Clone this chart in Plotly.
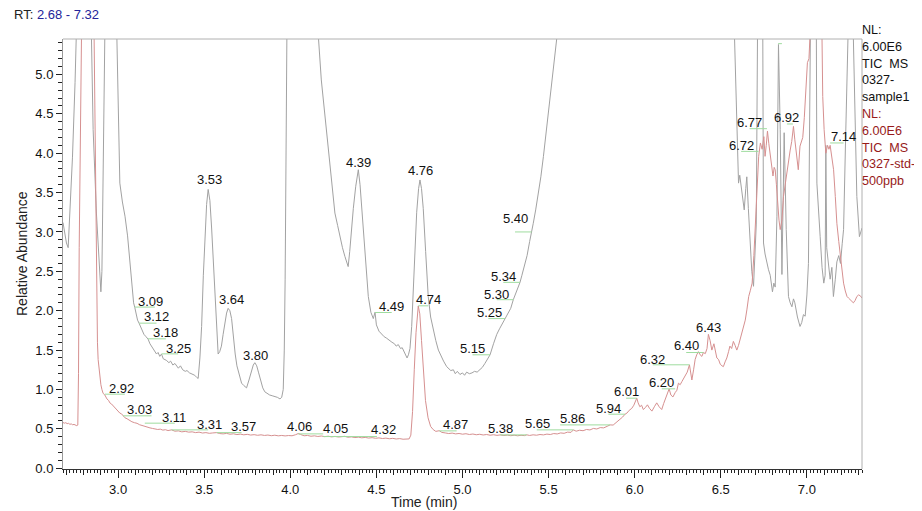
import plotly.graph_objects as go

# ---------------- data ----------------
# TIC MS 0327-sample1 (grey)  : (time min, relative abundance)
sample1_points = [
    (2.680, 3.12), (2.690, 3.00), (2.700, 2.86), (2.710, 2.80), (2.720, 3.20), (2.735, 3.95),
    (2.750, 4.90), (2.765, 5.80), (2.800, 9.00), (2.845, 5.50), (2.855, 4.30), (2.874, 3.24),
    (2.890, 2.60), (2.900, 2.24), (2.906, 2.50), (2.913, 3.90), (2.923, 5.50), (2.960, 9.00),
    (2.995, 5.45), (3.005, 4.30), (3.010, 3.62), (3.025, 3.38), (3.040, 3.20), (3.055, 2.95),
    (3.070, 2.61), (3.080, 2.32), (3.090, 2.10), (3.097, 2.04), (3.105, 1.95), (3.113, 1.88),
    (3.122, 1.84), (3.136, 1.76), (3.150, 1.70), (3.162, 1.67), (3.174, 1.64), (3.185, 1.58),
    (3.200, 1.53), (3.212, 1.48), (3.223, 1.45), (3.232, 1.47), (3.242, 1.42), (3.252, 1.45),
    (3.262, 1.39), (3.280, 1.37), (3.295, 1.34), (3.305, 1.36), (3.318, 1.31), (3.330, 1.33),
    (3.340, 1.30), (3.350, 1.27), (3.362, 1.30), (3.375, 1.25), (3.390, 1.23), (3.400, 1.24),
    (3.415, 1.21), (3.430, 1.19), (3.445, 1.18), (3.458, 1.15), (3.465, 1.14), (3.475, 1.40),
    (3.485, 1.80), (3.495, 2.45), (3.504, 2.94), (3.514, 3.35), (3.523, 3.54), (3.533, 3.40),
    (3.543, 3.05), (3.553, 2.60), (3.562, 2.15), (3.572, 1.75), (3.581, 1.45), (3.590, 1.48),
    (3.600, 1.55), (3.610, 1.70), (3.620, 1.86), (3.630, 1.97), (3.639, 2.03), (3.649, 2.00),
    (3.659, 1.90), (3.670, 1.65), (3.680, 1.45), (3.690, 1.30), (3.705, 1.16), (3.717, 1.08),
    (3.730, 1.05), (3.746, 1.02), (3.760, 1.12), (3.775, 1.25), (3.785, 1.31), (3.794, 1.34),
    (3.805, 1.30), (3.815, 1.22), (3.828, 1.10), (3.840, 1.02), (3.852, 0.97), (3.865, 0.95),
    (3.880, 0.93), (3.895, 0.92), (3.910, 0.91), (3.925, 0.90), (3.940, 0.88), (3.950, 0.90),
    (3.959, 1.00), (3.965, 1.50), (3.970, 2.40), (3.975, 3.80), (3.980, 5.45), (4.000, 8.00),
    (4.080, 9.00), (4.150, 6.50), (4.164, 5.45), (4.180, 4.93), (4.200, 4.51), (4.215, 4.12),
    (4.230, 3.79), (4.245, 3.50), (4.259, 3.24), (4.275, 3.08), (4.288, 2.94), (4.303, 2.80),
    (4.317, 2.69), (4.328, 2.60), (4.336, 2.56), (4.345, 2.75), (4.356, 3.05), (4.366, 3.30),
    (4.380, 3.58), (4.395, 3.79), (4.405, 3.60), (4.415, 3.30), (4.424, 3.03), (4.440, 2.55),
    (4.453, 2.18), (4.468, 1.98), (4.482, 1.90), (4.492, 1.98), (4.500, 1.82), (4.515, 1.74),
    (4.530, 1.70), (4.545, 1.67), (4.560, 1.65), (4.575, 1.62), (4.590, 1.60), (4.605, 1.58),
    (4.615, 1.55), (4.627, 1.57), (4.640, 1.52), (4.650, 1.53), (4.660, 1.48), (4.670, 1.43),
    (4.678, 1.40), (4.686, 1.44), (4.695, 1.52), (4.705, 1.80), (4.714, 2.25), (4.724, 2.80),
    (4.734, 3.25), (4.745, 3.55), (4.753, 3.66), (4.762, 3.55), (4.772, 3.30), (4.786, 2.75),
    (4.801, 2.18), (4.815, 1.92), (4.830, 1.76), (4.845, 1.62), (4.860, 1.50), (4.875, 1.42),
    (4.890, 1.36), (4.908, 1.29), (4.920, 1.27), (4.932, 1.24), (4.947, 1.25), (4.958, 1.20),
    (4.970, 1.23), (4.985, 1.19), (5.000, 1.21), (5.012, 1.18), (5.024, 1.22), (5.040, 1.20),
    (5.055, 1.21), (5.070, 1.23), (5.085, 1.22), (5.100, 1.25), (5.115, 1.28), (5.130, 1.33),
    (5.145, 1.38), (5.160, 1.44), (5.180, 1.58), (5.199, 1.70), (5.215, 1.77), (5.228, 1.82),
    (5.247, 1.90), (5.266, 1.96), (5.280, 2.03), (5.295, 2.14), (5.310, 2.22), (5.322, 2.29),
    (5.334, 2.36), (5.345, 2.45), (5.360, 2.56), (5.375, 2.70), (5.390, 2.88), (5.402, 3.00),
    (5.411, 3.11), (5.425, 3.28), (5.440, 3.47), (5.455, 3.70), (5.470, 3.96), (5.484, 4.22),
    (5.498, 4.51), (5.513, 4.80), (5.527, 5.08), (5.547, 5.45), (5.600, 7.00), (6.000, 9.00),
    (6.500, 8.00), (6.570, 6.00), (6.580, 5.45), (6.595, 4.30), (6.603, 3.62), (6.610, 3.72),
    (6.620, 3.55), (6.628, 3.45), (6.636, 3.28), (6.645, 3.55), (6.651, 3.70), (6.660, 3.30),
    (6.670, 2.82), (6.680, 2.50), (6.690, 2.31), (6.700, 2.70), (6.706, 3.10), (6.713, 5.45),
    (6.728, 7.00), (6.744, 5.45), (6.748, 2.86), (6.757, 2.72), (6.767, 2.60), (6.777, 2.52),
    (6.787, 2.45), (6.800, 2.24), (6.808, 2.35), (6.816, 2.30), (6.826, 3.20), (6.835, 5.38),
    (6.845, 4.30), (6.855, 2.46), (6.862, 3.40), (6.868, 4.26), (6.880, 3.03), (6.893, 2.18),
    (6.903, 2.10), (6.913, 2.05), (6.922, 2.15), (6.930, 2.10), (6.945, 1.92), (6.960, 1.80),
    (6.970, 1.85), (6.980, 1.95), (6.990, 1.93), (7.000, 2.20), (7.009, 2.60), (7.020, 5.45),
    (7.038, 7.50), (7.055, 5.45), (7.058, 3.62), (7.068, 3.20), (7.077, 2.94), (7.088, 2.55),
    (7.098, 2.35), (7.106, 2.45), (7.110, 4.10), (7.115, 2.80), (7.125, 2.55), (7.135, 2.40),
    (7.145, 2.55), (7.154, 2.18), (7.165, 2.40), (7.174, 2.62), (7.185, 2.70), (7.195, 2.60),
    (7.205, 2.85), (7.213, 3.03), (7.225, 4.20), (7.240, 5.45), (7.255, 7.00), (7.270, 5.45),
    (7.280, 4.20), (7.290, 3.45), (7.305, 2.94), (7.320, 3.05),
]

# TIC MS 0327-std-500ppb (red)
std_points = [
    (2.680, 0.580), (2.688, 0.572), (2.696, 0.578), (2.704, 0.566), (2.712, 0.570), (2.720, 0.558),
    (2.728, 0.562), (2.736, 0.552), (2.744, 0.556), (2.752, 0.545), (2.760, 0.540), (2.766, 0.548),
    (2.770, 1.200), (2.774, 2.800), (2.778, 4.300), (2.782, 5.600), (2.820, 12.00), (2.860, 5.600),
    (2.865, 4.600), (2.870, 3.100), (2.875, 1.930), (2.880, 1.600), (2.884, 1.380), (2.889, 1.250),
    (2.894, 1.160), (2.900, 1.060), (2.906, 1.000), (2.913, 0.950), (2.923, 0.930), (2.935, 0.880),
    (2.945, 0.860), (2.952, 0.830), (2.962, 0.815), (2.972, 0.790), (2.980, 0.770), (2.990, 0.745),
    (3.000, 0.720), (3.010, 0.700), (3.020, 0.690), (3.029, 0.665), (3.040, 0.640), (3.052, 0.628),
    (3.065, 0.605), (3.080, 0.590), (3.095, 0.578), (3.110, 0.570), (3.125, 0.552), (3.140, 0.540),
    (3.155, 0.528), (3.170, 0.520), (3.185, 0.512), (3.200, 0.505), (3.215, 0.498), (3.230, 0.492),
    (3.245, 0.496), (3.260, 0.484), (3.275, 0.489), (3.290, 0.478), (3.310, 0.487), (3.330, 0.470),
    (3.350, 0.474), (3.370, 0.462), (3.390, 0.468), (3.410, 0.458), (3.430, 0.462), (3.450, 0.452),
    (3.470, 0.458), (3.490, 0.447), (3.510, 0.452), (3.530, 0.443), (3.550, 0.448), (3.572, 0.452),
    (3.590, 0.440), (3.610, 0.436), (3.630, 0.442), (3.650, 0.432), (3.670, 0.437), (3.690, 0.427),
    (3.710, 0.433), (3.730, 0.424), (3.750, 0.430), (3.770, 0.421), (3.790, 0.426), (3.810, 0.418),
    (3.830, 0.424), (3.850, 0.416), (3.870, 0.421), (3.890, 0.413), (3.910, 0.419), (3.930, 0.411),
    (3.950, 0.416), (3.970, 0.410), (3.990, 0.415), (4.010, 0.412), (4.030, 0.425), (4.046, 0.440),
    (4.060, 0.428), (4.080, 0.412), (4.100, 0.416), (4.120, 0.406), (4.140, 0.411), (4.160, 0.403),
    (4.180, 0.409), (4.200, 0.401), (4.220, 0.406), (4.240, 0.398), (4.260, 0.404), (4.280, 0.396),
    (4.300, 0.401), (4.317, 0.405), (4.335, 0.393), (4.355, 0.398), (4.375, 0.389), (4.395, 0.394),
    (4.415, 0.386), (4.435, 0.391), (4.455, 0.383), (4.475, 0.388), (4.495, 0.380), (4.515, 0.385),
    (4.535, 0.377), (4.555, 0.382), (4.575, 0.374), (4.595, 0.379), (4.615, 0.371), (4.635, 0.376),
    (4.655, 0.368), (4.675, 0.365), (4.690, 0.372), (4.700, 0.420), (4.710, 0.720), (4.720, 1.250),
    (4.730, 1.720), (4.743, 2.060), (4.752, 1.960), (4.762, 1.620), (4.772, 1.220), (4.785, 0.860),
    (4.800, 0.640), (4.815, 0.530), (4.830, 0.490), (4.845, 0.468), (4.865, 0.476), (4.880, 0.455),
    (4.900, 0.448), (4.920, 0.440), (4.940, 0.446), (4.960, 0.436), (4.980, 0.441), (5.000, 0.432),
    (5.020, 0.438), (5.040, 0.428), (5.060, 0.434), (5.080, 0.425), (5.100, 0.431), (5.120, 0.422),
    (5.140, 0.428), (5.160, 0.419), (5.180, 0.425), (5.200, 0.417), (5.220, 0.423), (5.240, 0.415),
    (5.260, 0.421), (5.280, 0.413), (5.300, 0.419), (5.320, 0.412), (5.340, 0.418), (5.360, 0.414),
    (5.373, 0.424), (5.390, 0.416), (5.410, 0.424), (5.430, 0.419), (5.450, 0.428), (5.470, 0.423),
    (5.490, 0.433), (5.510, 0.428), (5.530, 0.440), (5.550, 0.435), (5.570, 0.448), (5.590, 0.443),
    (5.610, 0.458), (5.630, 0.455), (5.644, 0.487), (5.660, 0.470), (5.680, 0.482), (5.700, 0.476),
    (5.720, 0.492), (5.740, 0.486), (5.760, 0.505), (5.780, 0.498), (5.800, 0.516), (5.820, 0.512),
    (5.840, 0.532), (5.857, 0.550), (5.875, 0.548), (5.890, 0.575), (5.905, 0.598), (5.915, 0.625),
    (5.930, 0.650), (5.944, 0.686), (5.955, 0.700), (5.968, 0.735), (5.983, 0.760), (5.995, 0.800),
    (6.003, 0.850), (6.012, 0.890), (6.020, 0.830), (6.030, 0.780), (6.040, 0.800), (6.050, 0.745),
    (6.062, 0.770), (6.074, 0.805), (6.086, 0.760), (6.100, 0.725), (6.114, 0.780), (6.128, 0.830),
    (6.142, 0.780), (6.157, 0.745), (6.168, 0.820), (6.180, 0.900), (6.190, 0.960), (6.200, 1.008),
    (6.210, 0.930), (6.222, 0.905), (6.235, 0.960), (6.245, 0.990), (6.254, 1.080), (6.264, 1.060),
    (6.274, 1.100), (6.284, 1.140), (6.293, 1.160), (6.305, 1.220), (6.318, 1.313), (6.325, 1.200),
    (6.332, 1.120), (6.342, 1.250), (6.351, 1.380), (6.360, 1.440), (6.370, 1.480), (6.380, 1.440),
    (6.390, 1.420), (6.399, 1.469), (6.410, 1.455), (6.420, 1.520), (6.428, 1.700), (6.438, 1.620),
    (6.448, 1.500), (6.460, 1.580), (6.470, 1.450), (6.477, 1.400), (6.487, 1.380), (6.497, 1.320),
    (6.507, 1.300), (6.515, 1.290), (6.525, 1.350), (6.535, 1.400), (6.545, 1.480), (6.553, 1.550),
    (6.563, 1.520), (6.573, 1.610), (6.583, 1.560), (6.593, 1.500), (6.603, 1.560), (6.612, 1.640),
    (6.622, 1.720), (6.632, 1.800), (6.642, 1.880), (6.652, 2.020), (6.662, 2.180), (6.672, 2.260),
    (6.682, 2.350), (6.692, 2.700), (6.702, 3.150), (6.711, 3.580), (6.720, 3.960), (6.730, 4.130),
    (6.740, 4.050), (6.750, 4.210), (6.757, 3.960), (6.764, 4.100), (6.771, 4.280), (6.779, 4.120),
    (6.787, 3.960), (6.795, 3.800), (6.803, 3.710), (6.810, 3.820), (6.816, 3.790), (6.823, 3.600),
    (6.830, 3.370), (6.838, 3.150), (6.845, 3.030), (6.855, 3.150), (6.864, 3.450), (6.874, 3.620),
    (6.884, 3.790), (6.894, 3.920), (6.903, 4.040), (6.912, 4.150), (6.922, 4.340), (6.930, 4.170),
    (6.940, 3.960), (6.950, 3.790), (6.960, 4.090), (6.968, 4.150), (6.976, 4.200), (6.985, 4.450),
    (6.994, 4.800), (7.003, 5.150), (7.012, 5.200), (7.020, 5.600), (7.050, 7.000), (7.087, 5.600),
    (7.092, 4.720), (7.100, 4.300), (7.110, 4.000), (7.120, 4.100), (7.128, 4.050), (7.135, 4.100),
    (7.145, 3.960), (7.155, 3.790), (7.165, 3.450), (7.174, 3.110), (7.185, 2.880), (7.195, 2.690),
    (7.205, 2.500), (7.213, 2.350), (7.223, 2.250), (7.233, 2.180), (7.242, 2.160), (7.250, 2.140),
    (7.260, 2.120), (7.270, 2.100), (7.280, 2.130), (7.290, 2.180), (7.300, 2.200), (7.310, 2.190),
    (7.320, 2.160),
]

# peak labels
peak_text = ["3.09", "3.12", "3.18", "3.25", "3.53", "3.64", "3.80", "4.39", "4.49", "4.76",
             "5.15", "5.25", "5.30", "5.34", "5.40", "6.72", "6.77", "6.84", "6.92", "7.14",
             "2.92", "3.03", "3.11", "3.31", "3.57", "4.06", "4.05", "4.32", "4.74", "4.87",
             "5.38", "5.65", "5.86", "5.94", "6.01", "6.20", "6.32", "6.40", "6.43"]
peak_label_x = [3.191, 3.221, 3.273, 3.351, 3.529, 3.661, 3.796, 4.397, 4.590, 4.755,
                5.058, 5.156, 5.200, 5.237, 5.305, 6.622, 6.667, 6.858, 6.884, 7.213,
                3.021, 3.124, 3.325, 3.529, 3.726, 4.056, 4.265, 4.542, 4.800, 4.962,
                5.220, 5.433, 5.639, 5.847, 5.950, 6.157, 6.105, 6.300, 6.428]
peak_label_y = [2.117, 1.926, 1.723, 1.525, 3.663, 2.139, 1.431, 3.888, 2.053, 3.781,
                1.515, 1.975, 2.203, 2.436, 3.177, 4.095, 4.384, 5.493, 4.455, 4.206,
                1.017, 0.741, 0.643, 0.559, 0.529, 0.529, 0.508, 0.487, 2.139, 0.559,
                0.508, 0.572, 0.635, 0.762, 0.973, 1.088, 1.385, 1.554, 1.787]
# green connector ticks: start, end, level (None = no connector)
peak_seg_x0 = [3.097, 3.122, 3.174, 3.252, None, None, None, None, 4.492, None,
               5.058, 5.150, 5.199, 5.237, 5.305, 6.618, 6.667, 6.833, 6.884, 7.135,
               2.923, 3.029, 3.155, 3.310, 3.572, 4.046, 4.191, 4.317, 4.743, 4.865,
               5.218, 5.431, 5.567, 5.847, 5.950, 6.157, 6.105, 6.299, None]
peak_seg_x1 = [3.213, 3.223, 3.277, 3.349, None, None, None, None, 4.589, None,
               5.160, 5.247, 5.295, 5.334, 5.402, 6.719, 6.768, 6.855, 6.919, 7.213,
               3.039, 3.194, 3.329, 3.523, 3.717, 4.191, 4.327, 4.503, 4.801, 4.966,
               5.373, 5.644, 5.857, 5.944, 6.012, 6.235, 6.318, 6.399, None]
peak_seg_y = [2.046, 1.842, 1.643, 1.452, None, None, None, None, 1.977, None,
              1.440, 1.900, 2.140, 2.360, 3.000, 4.023, 4.311, 5.391, 4.371, 4.130,
              0.940, 0.665, 0.572, 0.487, 0.452, 0.436, 0.402, 0.402, 2.062, 0.474,
              0.423, 0.487, 0.550, 0.686, 0.889, 1.008, 1.313, 1.469, None]

rt_start, rt_end = "2.68", "7.32"
legend_sample = ["NL:", "6.00E6", "TIC\u00a0\u00a0MS", "0327-", "sample1"]
legend_std = ["NL:", "6.00E6", "TIC\u00a0\u00a0MS", "0327-std-", "500ppb"]

# ---------------- figure ----------------
FONT = "Liberation Sans, Arial, sans-serif"
X_RANGE = [2.68, 7.32]
Y_RANGE = [-0.01, 5.45]

s_t = [p[0] for p in sample1_points]
s_y = [p[1] for p in sample1_points]
r_t = [p[0] for p in std_points]
r_y = [p[1] for p in std_points]

fig = go.Figure()
fig.add_trace(go.Scatter(x=s_t, y=s_y, mode="lines", line=dict(color="#a2a2a2", width=1),
                         hoverinfo="skip", name="sample1"))
fig.add_trace(go.Scatter(x=r_t, y=r_y, mode="lines", line=dict(color="#d69090", width=1),
                         hoverinfo="skip", name="std-500ppb"))

gx, gy = [], []
for x0, x1, yv in zip(peak_seg_x0, peak_seg_x1, peak_seg_y):
    if x0 is None:
        continue
    gx += [x0, x1, None]
    gy += [yv, yv, None]
fig.add_trace(go.Scatter(x=gx, y=gy, mode="lines", line=dict(color="#9fdc9f", width=1),
                         hoverinfo="skip", cliponaxis=False))

# helper trace for the 0.1-min medium ticks axis
fig.add_trace(go.Scatter(x=[None], y=[None], xaxis="x2", yaxis="y", hoverinfo="skip"))

annotations = []
for t, lx, ly in zip(peak_text, peak_label_x, peak_label_y):
    annotations.append(dict(x=lx, y=ly, xref="x", yref="y", text=t, showarrow=False,
                            xanchor="center", yanchor="middle",
                            font=dict(family=FONT, size=13, color="#111111")))

annotations.append(dict(
    x=-0.064, y=1.056, xref="paper", yref="paper", xanchor="left", yanchor="middle",
    showarrow=False,
    text=f"RT: <span style='color:#24249a'>{rt_start} - {rt_end}</span>",
    font=dict(family=FONT, size=13, color="#222222")))

# right-hand header lines (plot area spans page y 39..469 -> 430 px)
PLOT_H = 430.0
legend_lines = [(s, "#111111") for s in legend_sample] + [(s, "#971a1a") for s in legend_std]
for i, (s, col) in enumerate(legend_lines):
    y_page = 30 + 16.8 * i
    annotations.append(dict(
        x=1.0, y=(469 - y_page) / PLOT_H, xref="paper", yref="paper",
        xanchor="left", yanchor="middle", xshift=-1, showarrow=False, align="left",
        text=s, borderpad=0, font=dict(family=FONT, size=12.6, color=col)))

annotations.append(dict(
    x=-0.0515, y=0.502, xref="paper", yref="paper", xanchor="center", yanchor="middle",
    showarrow=False, textangle=-90, text="Relative Abundance",
    font=dict(family=FONT, size=14, color="#222222")))
annotations.append(dict(
    x=0.452, y=-0.077, xref="paper", yref="paper", xanchor="center", yanchor="middle",
    showarrow=False, text="Time (min)",
    font=dict(family=FONT, size=14, color="#222222")))

medium_ticks = [round(2.7 + 0.1 * i, 2) for i in range(47)]

# the page body adds an 8 px offset, so the figure is 8 px smaller on each axis
fig.update_layout(
    width=914, height=503,
    margin=dict(l=55, r=60, t=31, b=42, pad=0),
    paper_bgcolor="white", plot_bgcolor="white",
    showlegend=False, hovermode=False,
    font=dict(family=FONT, size=13, color="#111111"),
    xaxis=dict(range=X_RANGE, dtick=0.5, tick0=0, tickformat=".1f",
               ticks="outside", ticklen=8, tickwidth=1, tickcolor="#222222",
               showline=True, linecolor="#333333", linewidth=1,
               showgrid=False, zeroline=False,
               tickfont=dict(family=FONT, size=13, color="#111111"),
               minor=dict(dtick=0.02, tick0=0, ticks="outside", ticklen=3,
                          tickcolor="#222222", showgrid=False)),
    xaxis2=dict(range=X_RANGE, overlaying="x", anchor="y", side="bottom",
                tickmode="array", tickvals=medium_ticks, ticks="outside", ticklen=5,
                tickcolor="#222222", showticklabels=False, showline=False,
                showgrid=False, zeroline=False),
    yaxis=dict(range=Y_RANGE, dtick=0.5, tick0=0, tickformat=".1f",
               ticks="outside", ticklen=6, tickwidth=1, tickcolor="#222222",
               showline=True, linecolor="#999999", linewidth=1,
               showgrid=False, zeroline=False,
               tickfont=dict(family=FONT, size=13, color="#111111"),
               minor=dict(dtick=0.1, tick0=0, ticks="outside", ticklen=4,
                          tickcolor="#222222", showgrid=False)),
    annotations=annotations,
    shapes=[
        dict(type="line", xref="paper", yref="paper", x0=0, x1=1, y0=1, y1=1,
             line=dict(color="#b0b0b0", width=1)),
        dict(type="line", xref="paper", yref="paper", x0=1, x1=1, y0=0, y1=1,
             line=dict(color="#b0b0b0", width=1)),
    ],
)

fig.write_html("out.html", config={"displayModeBar": False})
